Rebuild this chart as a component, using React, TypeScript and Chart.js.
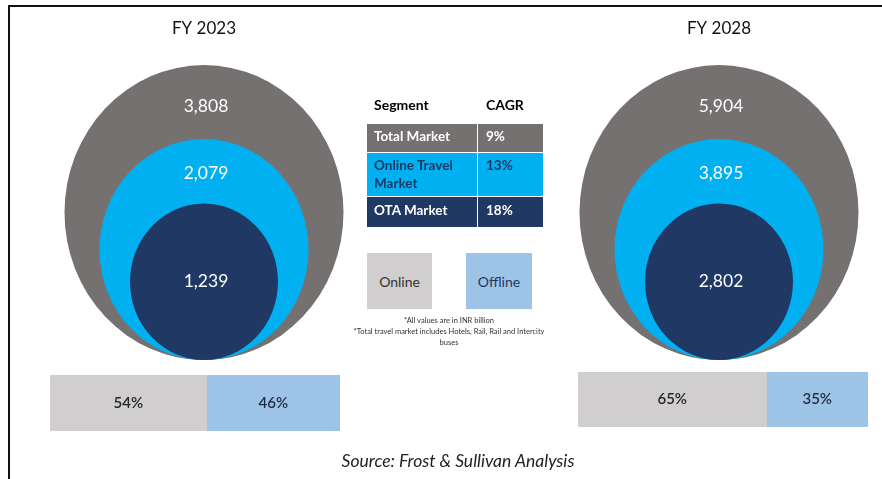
import React, { useEffect, useRef } from "react";
import { Chart, registerables } from "chart.js";

Chart.register(...registerables);

// ---------- data ----------
const years = ["FY 2023", "FY 2028"];
const segments = ["Total Market", "Online Travel Market", "OTA Market"];
const totalMarket = [3808, 5904];
const onlineTravelMarket = [2079, 3895];
const otaMarket = [1239, 2802];
const cagr = ["9%", "13%", "18%"];
const shareLabels = ["Online", "Offline"];
const onlineShare = [54, 65];
const offlineShare = [46, 35];
const footnotes = [
  "*All values are in INR billion",
  "*Total travel market includes Hotels, Rail, Rail and Intercity",
  "buses",
];
const sourceText = "Source: Frost & Sullivan Analysis";

// ---------- styles ----------
const FONT = "Lato, 'Open Sans', 'DejaVu Sans', sans-serif";
const SEG_COLORS = ["#767171", "#00B0F0", "#1F3864"];
const SEG_TEXT = ["#FFFFFF", "#1F3864", "#FFFFFF"];
const BAR_COLORS = ["#D0CECE", "#9DC3E6"];
const BAR_TEXT = ["#262626", "#1F2A44"];
const BUBBLE_R = [139.5, 104.5, 74];
const STRETCH = 1.057;

const bubbleLabelPlugin = {
  id: "bubbleStretchLabels",
  beforeDatasetsDraw(chart: any) {
    const ctx = chart.ctx;
    const base = chart.scales.y.getPixelForValue(0);
    ctx.save();
    ctx.translate(0, base);
    ctx.scale(1, STRETCH);
    ctx.translate(0, -base);
  },
  afterDatasetsDraw(chart: any) {
    const ctx = chart.ctx;
    ctx.restore();
    const base = chart.scales.y.getPixelForValue(0);
    const series = [totalMarket, onlineTravelMarket, otaMarket];
    ctx.save();
    ctx.fillStyle = "#FFFFFF";
    ctx.font = `17.5px ${FONT}`;
    ctx.textAlign = "center";
    ctx.textBaseline = "middle";
    years.forEach((_, i) => {
      const els = series.map((_, s) => chart.getDatasetMeta(s).data[i]);
      const tops = els.map((el: any) => base - 2 * el.options.radius * STRETCH);
      const ys = [
        (tops[0] + tops[1]) / 2 + 4,
        (tops[1] + tops[2]) / 2 + 2,
        base - els[2].options.radius * STRETCH,
      ];
      series.forEach((vals, s) => {
        ctx.fillText(vals[i].toLocaleString("en-US"), els[s].x + 2, ys[s]);
      });
    });
    ctx.restore();
  },
};

function BubbleChart() {
  const ref = useRef<HTMLCanvasElement>(null);
  useEffect(() => {
    const series = [totalMarket, onlineTravelMarket, otaMarket];
    const chart = new Chart(ref.current as HTMLCanvasElement, {
      type: "bubble",
      data: {
        labels: years,
        datasets: series.map((vals, s) => ({
          label: segments[s],
          data: vals.map((v, i) => ({ x: years[i], y: BUBBLE_R[s], r: BUBBLE_R[s], v })),
          backgroundColor: SEG_COLORS[s],
          hoverBackgroundColor: SEG_COLORS[s],
          borderWidth: 0,
          hoverBorderWidth: 0,
          hoverRadius: 0,
          order: 3 - s,
          clip: false,
        })) as any,
      },
      options: {
        responsive: false,
        animation: false,
        events: [],
        layout: { autoPadding: false, padding: { left: 204, right: 163, top: 0, bottom: 119 } },
        scales: {
          x: {
            type: "category",
            position: "top",
            offset: false,
            grid: { display: false, drawTicks: false },
            border: { display: false },
            ticks: { color: "#111", font: { size: 17, family: FONT }, padding: 21, autoSkip: false, maxRotation: 0 },
            afterFit: (axis: any) => {
              axis.height = 60;
            },
          },
          y: { display: false, min: 0, max: 300 },
        },
        plugins: { legend: { display: false }, tooltip: { enabled: false } },
      } as any,
      plugins: [bubbleLabelPlugin],
    });
    return () => chart.destroy();
  }, []);
  return (
    <canvas
      ref={ref}
      width={882}
      height={479}
      style={{ position: "absolute", left: 0, top: 0, width: 882, height: 479 }}
    />
  );
}

const barLabelPlugin = {
  id: "barLabels",
  afterDatasetsDraw(chart: any) {
    const ctx = chart.ctx;
    ctx.save();
    ctx.font = `600 15px ${FONT}`;
    ctx.textAlign = "center";
    ctx.textBaseline = "middle";
    chart.data.datasets.forEach((ds: any, d: number) => {
      chart.getDatasetMeta(d).data.forEach((el: any, j: number) => {
        ctx.fillStyle = BAR_TEXT[d];
        ctx.fillText(`${ds.data[j]}%`, (el.x + el.base) / 2, el.y);
      });
    });
    ctx.restore();
  },
};

function ShareBar({ idx, left, top, width, height }: { idx: number; left: number; top: number; width: number; height: number }) {
  const ref = useRef<HTMLCanvasElement>(null);
  useEffect(() => {
    const chart = new Chart(ref.current as HTMLCanvasElement, {
      type: "bar",
      data: {
        labels: [years[idx]],
        datasets: [
          { label: shareLabels[0], data: [onlineShare[idx]], backgroundColor: BAR_COLORS[0] },
          { label: shareLabels[1], data: [offlineShare[idx]], backgroundColor: BAR_COLORS[1] },
        ],
      },
      options: {
        indexAxis: "y",
        responsive: false,
        animation: false,
        events: [],
        layout: { autoPadding: false, padding: 0 },
        datasets: { bar: { barPercentage: 1, categoryPercentage: 1, borderWidth: 0 } },
        scales: {
          x: { stacked: true, display: false, min: 0, max: 100 },
          y: { stacked: true, display: false },
        },
        plugins: { legend: { display: false }, tooltip: { enabled: false } },
      } as any,
      plugins: [barLabelPlugin],
    });
    return () => chart.destroy();
  }, [idx]);
  return (
    <canvas
      ref={ref}
      width={width}
      height={height}
      style={{ position: "absolute", left, top, width, height }}
    />
  );
}

const ROWS = [
  { top: 124, height: 29, pad: 4 },
  { top: 153, height: 44, pad: 4 },
  { top: 197, height: 31, pad: 5 },
];

export default function App() {
  useEffect(() => {
    document.body.style.margin = "0";
  }, []);
  const abs: React.CSSProperties = { position: "absolute", boxSizing: "border-box" };
  return (
    <div
      style={{
        position: "absolute",
        left: 0,
        top: 0,
        width: 882,
        height: 479,
        overflow: "hidden",
        background: "#fff",
        fontFamily: FONT,
      }}
    >
      <div style={{ ...abs, left: 8, top: 5, width: 880, height: 480, borderTop: "2px solid #111", borderLeft: "2px solid #111" }} />
      <BubbleChart />
      <ShareBar idx={0} left={50} top={375} width={290} height={56} />
      <ShareBar idx={1} left={578} top={372} width={290} height={55} />

      {/* CAGR table */}
      <div style={{ ...abs, left: 374, top: 96, fontSize: 14, fontWeight: 700, lineHeight: "17px", color: "#000" }}>Segment</div>
      <div style={{ ...abs, left: 486, top: 96, fontSize: 14, fontWeight: 700, lineHeight: "17px", color: "#000" }}>CAGR</div>
      {segments.map((seg, s) => (
        <React.Fragment key={seg}>
          <div
            style={{
              ...abs,
              left: 367,
              top: ROWS[s].top,
              width: 111,
              height: ROWS[s].height,
              background: SEG_COLORS[s],
              color: SEG_TEXT[s],
              borderRight: "1px solid #fff",
              borderBottom: "1px solid #fff",
              padding: `${ROWS[s].pad}px 6px 0 7px`,
              fontSize: 13.5,
              fontWeight: 700,
              lineHeight: "17.5px",
            }}
          >
            {seg}
          </div>
          <div
            style={{
              ...abs,
              left: 478,
              top: ROWS[s].top,
              width: 65,
              height: ROWS[s].height,
              background: SEG_COLORS[s],
              color: SEG_TEXT[s],
              borderBottom: "1px solid #fff",
              padding: `${ROWS[s].pad}px 4px 0 8px`,
              fontSize: 13.5,
              fontWeight: 700,
              lineHeight: "17.5px",
            }}
          >
            {cagr[s]}
          </div>
        </React.Fragment>
      ))}

      {/* Online / Offline legend */}
      {shareLabels.map((lab, k) => (
        <div
          key={lab}
          style={{
            ...abs,
            left: k === 0 ? 367 : 466,
            top: 253,
            width: k === 0 ? 65 : 66,
            height: 56,
            background: BAR_COLORS[k],
            color: k === 0 ? "#333" : "#1F3864",
            display: "flex",
            alignItems: "center",
            justifyContent: "center",
            fontSize: 14,
          }}
        >
          {lab}
        </div>
      ))}

      {/* footnotes */}
      <div style={{ ...abs, left: 329, top: 315, width: 240, textAlign: "center", fontSize: 7.5, lineHeight: "11px", color: "#333" }}>
        {footnotes.map((f) => (
          <div key={f}>{f}</div>
        ))}
      </div>

      {/* source */}
      <div style={{ ...abs, left: 208, top: 451, width: 500, textAlign: "center", fontSize: 17.5, fontStyle: "italic", lineHeight: "20px", color: "#222" }}>
        {sourceText}
      </div>
    </div>
  );
}
